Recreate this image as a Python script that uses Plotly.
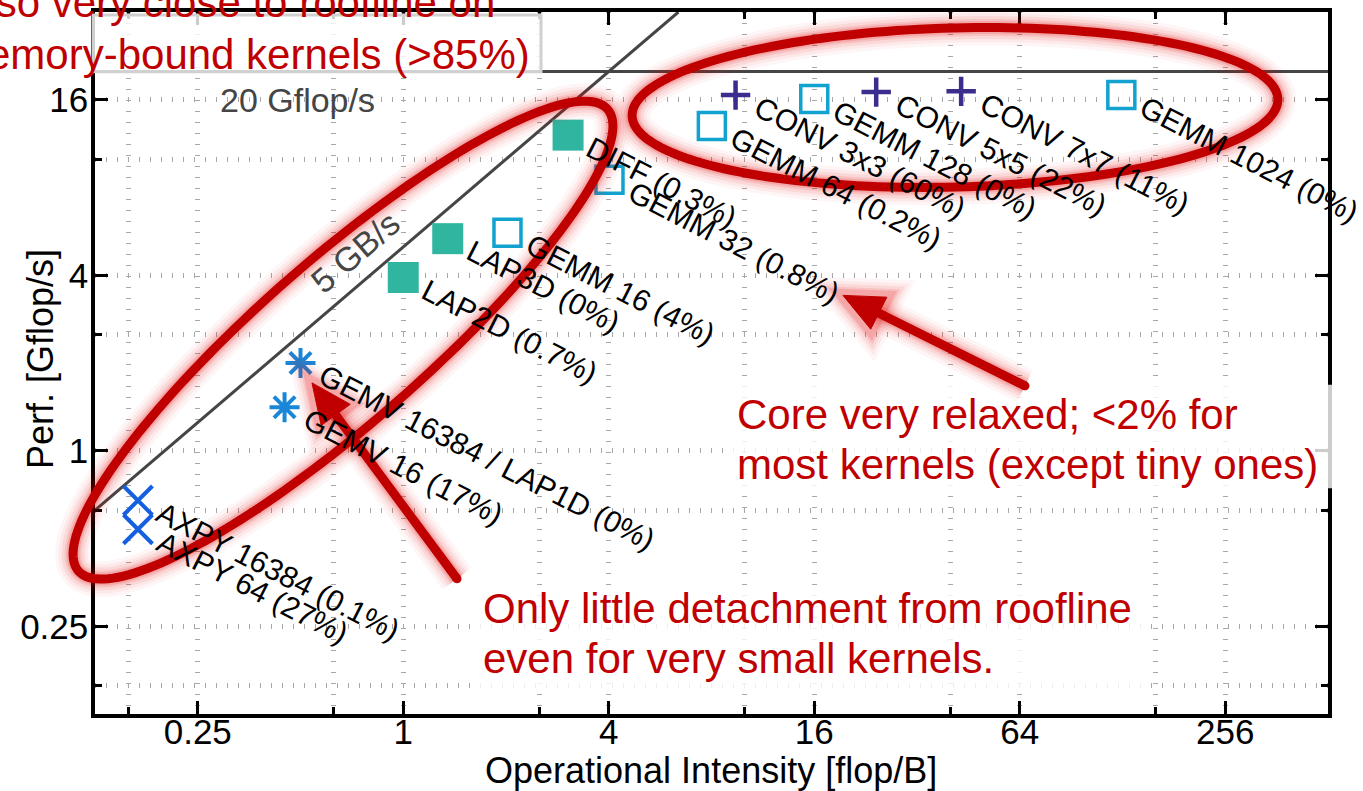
import math
import plotly.graph_objects as go

# ---- kernel measurements: operational intensity [flop/B] and performance [Gflop/s]
axpy_names = ["AXPY 16384 (0.1%)", "AXPY 64 (27%)"]
axpy_oi = [0.167, 0.167]
axpy_perf = [0.675, 0.538]

gemv_names = ["GEMV 16384 / LAP1D (0%)", "GEMV 16 (17%)"]
gemv_oi = [0.5, 0.449]
gemv_perf = [2.0, 1.41]

stencil_names = ["LAP2D (0.7%)", "LAP3D (0%)", "DIFF (0.3%)"]
stencil_oi = [1.0, 1.35, 3.04]
stencil_perf = [3.93, 5.34, 12.1]

gemm_names = ["GEMM 16 (4%)", "GEMM 32 (0.8%)", "GEMM 64 (0.2%)", "GEMM 128 (0%)", "GEMM 1024 (0%)"]
gemm_oi = [2.02, 4.02, 8.02, 16.0, 127]
gemm_perf = [5.6, 8.51, 13.0, 16.1, 16.6]

conv_names = ["CONV 3x3 (60%)", "CONV 5x5 (22%)", "CONV 7x7 (11%)"]
conv_oi = [9.41, 24.3, 43.1]
conv_perf = [16.6, 17.0, 17.1]

# ---- roofline parameters
peak_gflops = 20
bandwidth_gbs = 5

# ---- axes
x_lim = [0.125, 512]
y_lim = [0.125, 32]
x_ticks = [0.25, 1, 4, 16, 64, 256]
x_ticktext = ["0.25", "1", "4", "16", "64", "256"]
y_ticks = [0.25, 1, 4, 16]
y_ticktext = ["0.25", "1", "4", "16"]
x_minor = [0.15625, 0.625, 2.5, 10, 40, 160]
y_minor = [0.15625, 0.625, 2.5, 10]

FONT = "Liberation Sans, Arial, Helvetica, sans-serif"
RED = "#c00000"
ROOF = "#454545"

# plot area in pixels
WIDTH, HEIGHT = 1363, 791
ML, MR, MT, MB = 95, 35, 8, 77
PW, PH = WIDTH - ML - MR, HEIGHT - MT - MB


def to_paper(px, py):
    return (px - ML) / PW, (MT + PH - py) / PH


def poly_path(points, close=True):
    pts = [to_paper(x, y) for x, y in points]
    s = "M" + " L".join(f"{x:.5f},{y:.5f}" for x, y in pts)
    return s + (" Z" if close else "")


def ellipse_points(cx, cy, a, b, deg, n=180):
    t = math.radians(deg)
    out = []
    for k in range(n):
        s = 2 * math.pi * k / n
        ex, ey = a * math.cos(s), b * math.sin(s)
        out.append((cx + ex * math.cos(t) - ey * math.sin(t),
                    cy + ex * math.sin(t) + ey * math.cos(t)))
    return out


fig = go.Figure()

# roofline: bandwidth-bound slope and compute peak
fig.add_trace(go.Scatter(
    x=[x_lim[0], y_lim[1] / bandwidth_gbs],
    y=[bandwidth_gbs * x_lim[0], y_lim[1]],
    mode="lines", line=dict(color=ROOF, width=3), hoverinfo="skip"))
fig.add_trace(go.Scatter(
    x=x_lim, y=[peak_gflops, peak_gflops],
    mode="lines", line=dict(color=ROOF, width=3), hoverinfo="skip"))

groups = [
    (axpy_names, axpy_oi, axpy_perf, dict(symbol="x-thin", size=29, color="#1560e0",
                                          line=dict(color="#1560e0", width=4))),
    (gemv_names, gemv_oi, gemv_perf, dict(symbol="asterisk-open", size=25, color="#1a86d8",
                                          line=dict(color="#1a86d8", width=4))),
    (stencil_names, stencil_oi, stencil_perf, dict(symbol="square", size=31, color="#30b5a0",
                                                   line=dict(width=0))),
    (gemm_names, gemm_oi, gemm_perf, dict(symbol="square-open", size=27, color="#12a2d0",
                                          line=dict(color="#12a2d0", width=3.5))),
    (conv_names, conv_oi, conv_perf, dict(symbol="cross-thin", size=21, color="#3a2d8e",
                                          line=dict(color="#3a2d8e", width=4.5))),
]

annotations = []
LABEL_ANGLE = 27
LABEL_SIZE = 30
th = math.radians(LABEL_ANGLE)
box_h = LABEL_SIZE * 1.15 + 4
gap = 22
lab_dx = gap * math.cos(th) - box_h / 2 * math.sin(th)
lab_dy = -(gap * math.sin(th) - box_h / 2 * math.cos(th))

for names, oi, perf, mk in groups:
    fig.add_trace(go.Scatter(x=oi, y=perf, mode="markers", marker=mk,
                             text=names, hoverinfo="text"))
    for n, xi, yi in zip(names, oi, perf):
        annotations.append(dict(
            x=math.log10(xi), y=math.log10(yi), xref="x", yref="y",
            text=n, showarrow=False, textangle=LABEL_ANGLE,
            xanchor="left", yanchor="top", xshift=lab_dx, yshift=lab_dy,
            font=dict(family=FONT, size=LABEL_SIZE, color="black")))

# roofline labels
px, py = to_paper(218, 97)
annotations.append(dict(x=px, y=py, xref="paper", yref="paper", xanchor="left", yanchor="middle",
                        text="20 Gflop/s", showarrow=False,
                        font=dict(family=FONT, size=34, color=ROOF)))
px, py = to_paper(355, 249)
annotations.append(dict(x=px, y=py, xref="paper", yref="paper", xanchor="center", yanchor="middle",
                        text="5 GB/s", showarrow=False, textangle=-40.7,
                        font=dict(family=FONT, size=34, color=ROOF)))

# axis titles
px, py = to_paper(711, 771)
annotations.append(dict(x=px, y=py, xref="paper", yref="paper", xanchor="center", yanchor="middle",
                        text="Operational Intensity [flop/B]", showarrow=False,
                        font=dict(family=FONT, size=36, color="black")))
px, py = to_paper(40, 357)
annotations.append(dict(x=px, y=py, xref="paper", yref="paper", xanchor="center", yanchor="middle",
                        text="Perf. [Gflop/s]", showarrow=False, textangle=-90,
                        font=dict(family=FONT, size=36, color="black")))

# red call-out texts, one annotation per line (left x, baseline y)
RED_SIZE = 42
callouts = [
    ("also very close to roofline on", -37, 13),
    ("memory-bound kernels (>85%)", -48, 65),
    ("Core very relaxed; <2% for", 737, 427),
    ("most kernels (except tiny ones)", 737, 478),
    ("Only little detachment from roofline", 483, 622),
    ("even for very small kernels.", 483, 673),
]
for txt, lx, base in callouts:
    px, py = to_paper(lx - 2, base - 0.3465 * RED_SIZE)
    annotations.append(dict(x=px, y=py, xref="paper", yref="paper", xanchor="left", yanchor="middle",
                            text=txt, showarrow=False,
                            font=dict(family=FONT, size=RED_SIZE, color=RED)))

shapes = []

# translucent white panels behind the call-outs
for (x0, y0, x1, y1, border) in [(93, 11, 541, 68, True), (728, 383, 1333, 487, False),
                                 (475, 585, 1150, 688, False)]:
    shapes.append(dict(type="path", xref="paper", yref="paper", layer="above",
                       path=poly_path([(x0, y0), (x1, y0), (x1, y1), (x0, y1)]),
                       fillcolor="rgba(255,255,255,0.8)",
                       line=dict(color="#d0d0d0" if border else "rgba(0,0,0,0)",
                                 width=3 if border else 0)))

# red ellipses and arrows with a soft halo
ellipses = [
    ellipse_points(343, 338, 352, 82, -41.3),
    ellipse_points(955, 104, 323, 80, -1.5),
]
arrows = [((1025, 384), (843, 293)), ((457, 578), (312, 381))]

arrow_parts = []
for (sx, sy), (tx, ty) in arrows:
    dx, dy = tx - sx, ty - sy
    ln = math.hypot(dx, dy)
    ux, uy = dx / ln, dy / ln
    nx, ny = -uy, ux
    hl, hw = 40, 18
    bx, by = tx - hl * ux, ty - hl * uy
    shaft = [(sx, sy), (bx + 2 * ux, by + 2 * uy)]
    head = [(tx, ty), (bx + hw * nx, by + hw * ny), (bx - hw * nx, by - hw * ny)]
    cap = [(sx + 4.5 * math.cos(a), sy + 4.5 * math.sin(a))
           for a in [2 * math.pi * k / 24 for k in range(24)]]
    arrow_parts.append((shaft, head, cap))

halo = [(36, 0.035), (29, 0.05), (23, 0.07), (17, 0.1), (13, 0.14)]
for w, a in halo:
    col = f"rgba(230,0,0,{a})"
    for pts in ellipses:
        shapes.append(dict(type="path", xref="paper", yref="paper", layer="above",
                           path=poly_path(pts), line=dict(color=col, width=w)))
    for shaft, head, cap in arrow_parts:
        shapes.append(dict(type="path", xref="paper", yref="paper", layer="above",
                           path=poly_path(shaft, close=False), line=dict(color=col, width=w)))
        shapes.append(dict(type="path", xref="paper", yref="paper", layer="above",
                           path=poly_path(head), line=dict(color=col, width=w)))

for pts in ellipses:
    shapes.append(dict(type="path", xref="paper", yref="paper", layer="above",
                       path=poly_path(pts), line=dict(color=RED, width=9)))
for shaft, head, cap in arrow_parts:
    shapes.append(dict(type="path", xref="paper", yref="paper", layer="above",
                       path=poly_path(shaft, close=False), line=dict(color=RED, width=9)))
    shapes.append(dict(type="path", xref="paper", yref="paper", layer="above",
                       path=poly_path(head), fillcolor=RED, line=dict(color=RED, width=1)))
    shapes.append(dict(type="path", xref="paper", yref="paper", layer="above",
                       path=poly_path(cap), fillcolor=RED, line=dict(color=RED, width=0)))

GRID = dict(showgrid=True, gridcolor="#a8a8a8", gridwidth=5, griddash="1px,10px")
axis_common = dict(
    type="log", showline=True, linecolor="black", linewidth=3.5, mirror="allticks",
    ticks="inside", ticklen=13, tickwidth=3, tickcolor="black",
    tickfont=dict(family=FONT, size=35, color="black"), zeroline=False, **GRID,
)

fig.update_layout(
    width=WIDTH, height=HEIGHT,
    margin=dict(l=ML, r=MR, t=MT, b=MB, pad=0),
    paper_bgcolor="white", plot_bgcolor="white",
    showlegend=False,
    xaxis=dict(range=[math.log10(v) for v in x_lim], tickvals=x_ticks, ticktext=x_ticktext,
               ticklabelstandoff=-16,
               minor=dict(tickvals=x_minor, ticks="inside", ticklen=7, tickwidth=2.5,
                          tickcolor="black", **GRID),
               **axis_common),
    yaxis=dict(range=[math.log10(v) for v in y_lim], tickvals=y_ticks, ticktext=y_ticktext,
               ticklabelstandoff=-4,
               minor=dict(tickvals=y_minor, ticks="inside", ticklen=7, tickwidth=2.5,
                          tickcolor="black", **GRID),
               **axis_common),
    annotations=annotations,
    shapes=shapes,
)

fig.write_html("out.html")
